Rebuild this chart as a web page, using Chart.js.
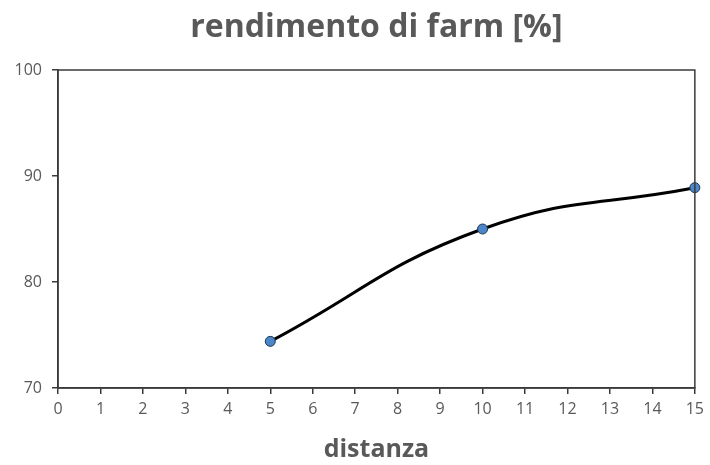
<!DOCTYPE html>
<html>
<head>
<meta charset="utf-8">
<script src="https://cdn.jsdelivr.net/npm/chart.js@4/dist/chart.umd.min.js"></script>
<style>
  html, body { margin: 0; padding: 0; background: #fff; }
  #wrap { width: 710px; height: 465px; }
</style>
</head>
<body>
<div id="wrap"><canvas id="myChart" width="710" height="465"></canvas></div>
<script>
// distanza vs rendimento
var distanze = [5, 10, 15];
var rendimenti = [74.4, 85.0, 88.9];
var xTicks = [0, 1, 2, 3, 4, 5, 6, 7, 8, 9, 10, 11, 12, 13, 14, 15];
var yTicks = [70, 80, 90, 100];

var grigio = '#595959';
var assi = '#3a3a3a';

// cornice attorno all'area del grafico
var cornice = {
    id: 'cornice',
    afterDraw: function(chart) {
        var a = chart.chartArea;
        var c = chart.ctx;
        c.save();
        c.strokeStyle = assi;
        c.lineWidth = 1.5;
        c.strokeRect(a.left, a.top, a.right - a.left, a.bottom - a.top);
        c.restore();
    }
};

var punti = distanze.map(function(d, i) { return { x: d, y: rendimenti[i] }; });

var ctx = document.getElementById('myChart').getContext('2d');
var myChart = new Chart(ctx, {
    type: 'line',
    data: {
        datasets: [{
            data: punti,
            borderColor: '#000',
            borderWidth: 3,
            tension: 0.45,
            pointRadius: 5,
            pointBackgroundColor: '#4a86c8',
            pointBorderColor: '#1f3550',
            pointBorderWidth: 1,
            clip: false
        }]
    },
    plugins: [cornice],
    options: {
        responsive: false,
        animation: false,
        layout: { padding: { left: 0, right: 9, top: 0, bottom: 0 } },
        plugins: {
            legend: { display: false },
            tooltip: { enabled: false },
            title: {
                display: true,
                fullSize: false,
                text: 'rendimento di farm [%]',
                color: grigio,
                font: { family: 'Open Sans', size: 32, weight: 'bold' },
                padding: { top: 9, bottom: 22.6 }
            }
        },
        scales: {
            x: {
                type: 'linear',
                min: 0,
                max: 15,
                afterBuildTicks: function(s) { s.ticks = xTicks.map(function(v) { return { value: v }; }); },
                afterFit: function(s) { s.height = 77; },
                grid: { drawOnChartArea: false, color: assi, lineWidth: 1.5, tickLength: 6 },
                border: { color: assi, width: 1.5 },
                ticks: { color: grigio, font: { family: 'Open Sans', size: 16 }, padding: 6, maxRotation: 0, autoSkip: false },
                title: {
                    display: true,
                    text: 'distanza',
                    color: grigio,
                    font: { family: 'Open Sans', size: 25, weight: 'bold' },
                    padding: { top: 0, bottom: 0 }
                }
            },
            y: {
                min: 70,
                max: 100,
                afterBuildTicks: function(s) { s.ticks = yTicks.map(function(v) { return { value: v }; }); },
                afterFit: function(s) { s.width = 58; },
                grid: { drawOnChartArea: false, color: assi, lineWidth: 1.5, tickLength: 6 },
                border: { color: assi, width: 1.5 },
                ticks: { color: grigio, font: { family: 'Open Sans', size: 16 }, padding: 10 }
            }
        }
    }
});
</script>
</body>
</html>
